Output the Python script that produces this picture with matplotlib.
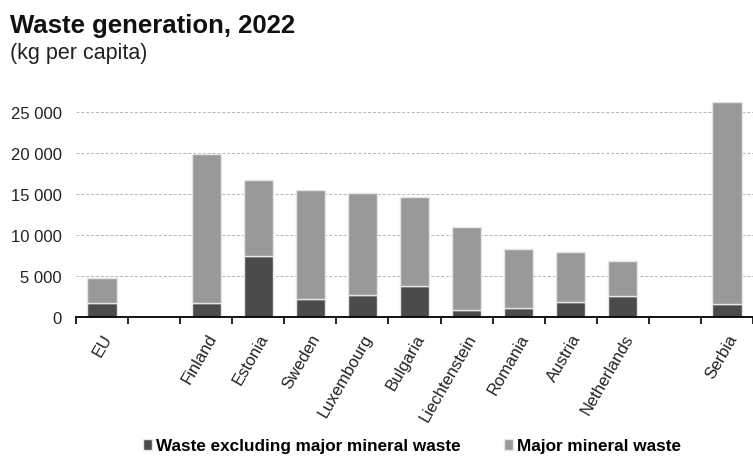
import numpy as np
import matplotlib.pyplot as plt
from matplotlib.ticker import FuncFormatter, MultipleLocator

plt.rcParams['font.family'] = ['Liberation Sans', 'DejaVu Sans']

# empty strings leave a blank slot on the axis
countries = ["EU", "", "Finland", "Estonia", "Sweden", "Luxembourg", "Bulgaria",
             "Liechtenstein", "Romania", "Austria", "Netherlands", "", "Serbia"]
excl_mineral = [1750, None, 1720, 7430, 2200, 2740, 3760, 820, 1100, 1840, 2570, None, 1630]
major_mineral = [3050, None, 18150, 9320, 13320, 12360, 10820, 10170, 7190, 6040, 4250, None, 24570]

dark = "#4b4b4b"
light = "#999999"

fig = plt.figure(figsize=(7.53, 4.6), dpi=100)
ax = fig.add_axes([76 / 753, 142 / 460, 677 / 753, 220 / 460])

x = np.arange(len(countries))
idx = [i for i, v in enumerate(excl_mineral) if v is not None]
low = np.array([excl_mineral[i] for i in idx])
high = np.array([major_mineral[i] for i in idx])

ax.bar(idx, low, width=0.56, color=dark, edgecolor="#e6e6e6", linewidth=1,
       label="Waste excluding major mineral waste", zorder=3)
ax.bar(idx, high, bottom=low, width=0.56, color=light, edgecolor="#e6e6e6",
       linewidth=1, label="Major mineral waste", zorder=3)

ax.set_xlim(-0.5, len(countries) - 0.5)
ax.set_ylim(0, 26830)
ax.yaxis.set_major_locator(MultipleLocator(5000))
ax.yaxis.set_major_formatter(FuncFormatter(lambda v, p: f"{int(v):,}".replace(",", " ")))
ax.grid(axis="y", linestyle=(0, (3, 2)), color="#b5b5b5", linewidth=0.7, zorder=0)

ax.set_xticks(x)
ax.set_xticklabels(countries, rotation=60, ha="right", rotation_mode="anchor", fontsize=12)
ax.set_xticks(np.arange(-0.5, len(countries)), minor=True)
ax.tick_params(axis="x", which="major", length=0, pad=10, colors="#222222")
ax.tick_params(axis="x", which="minor", length=5, width=1.2, direction="out", color="black")
ax.tick_params(axis="y", length=0, labelsize=12, pad=10, colors="#222222")

for side in ["top", "right", "left"]:
    ax.spines[side].set_visible(False)
ax.spines["bottom"].set_linewidth(1.3)
ax.spines["bottom"].set_zorder(4)

fig.text(10 / 753, 1 - 33 / 460, "Waste generation, 2022", fontsize=18.5,
         fontweight="bold", va="baseline", color="#111111")
fig.text(10 / 753, 1 - 59 / 460, "(kg per capita)", fontsize=15.5,
         va="baseline", color="#222222")

fig.legend(loc="center", bbox_to_anchor=(412 / 753, 1 - 447 / 460), ncol=2, frameon=False,
           handlelength=0.55, handleheight=0.55, handletextpad=0.25,
           columnspacing=2.5, prop={"weight": "bold", "size": 12.3})

fig.savefig("out.png", dpi=100)
